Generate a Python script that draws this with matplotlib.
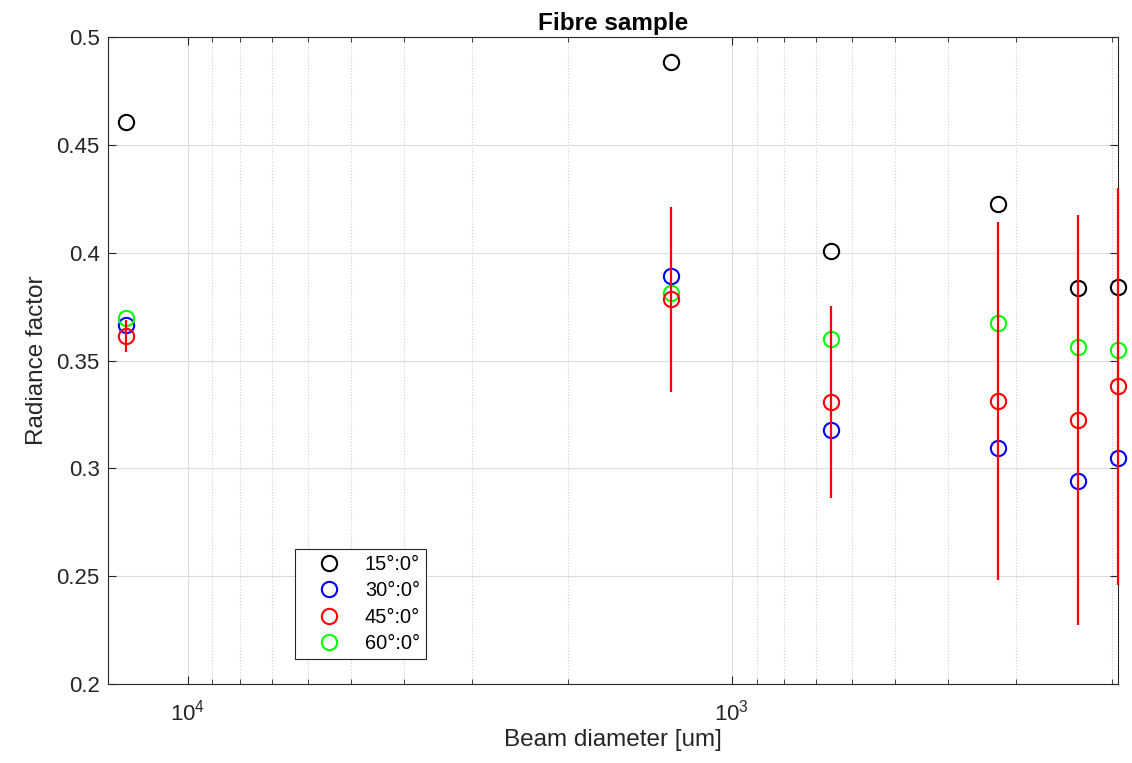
import matplotlib.pyplot as plt
from matplotlib.ticker import LogLocator, NullFormatter

plt.rcParams['font.family'] = ['Liberation Sans', 'DejaVu Sans']

# beam diameters [um]
diam = [12950, 1290, 657, 324, 231, 195]

# radiance factor per geometry
r15 = [0.4604, 0.4885, 0.4007, 0.4228, 0.3834, 0.3839]
r30 = [0.3664, 0.3894, 0.3180, 0.3095, 0.2940, 0.3050]
r45 = [0.3613, 0.3783, 0.3308, 0.3313, 0.3223, 0.3381]
r60 = [0.3698, 0.3814, 0.3602, 0.3672, 0.3563, 0.3548]
err45 = [0.0075, 0.0428, 0.0445, 0.0831, 0.0950, 0.0920]

fig = plt.figure(figsize=(11.32, 7.63), dpi=100)
ax = fig.add_axes([0.0954, 0.1035, 0.8922, 0.848])

mk = dict(linestyle='none', marker='o', markersize=11, markerfacecolor='none',
          markeredgewidth=1.5, clip_on=False, zorder=3)
h15, = ax.plot(diam, r15, markeredgecolor='k', label='15°:0°', **mk)
h30, = ax.plot(diam, r30, markeredgecolor='b', label='30°:0°', **mk)
h60, = ax.plot(diam, r60, markeredgecolor=(0, 1, 0), label='60°:0°', **mk)
eb = ax.errorbar(diam, r45, yerr=err45, fmt='none', ecolor='r', elinewidth=1.6, capsize=0, zorder=3)
for c in eb.get_children():
    c.set_clip_on(False)
h45, = ax.plot(diam, r45, markeredgecolor='r', label='45°:0°', **mk)

ax.set_xscale('log')
ax.set_xlim(14000, 195)
ax.set_ylim(0.2, 0.5)
ax.set_yticks([0.2, 0.25, 0.3, 0.35, 0.4, 0.45, 0.5])
ax.set_yticklabels(['0.2', '0.25', '0.3', '0.35', '0.4', '0.45', '0.5'])
ax.xaxis.set_minor_locator(LogLocator(base=10, subs=range(2, 10)))
ax.xaxis.set_minor_formatter(NullFormatter())

ax.grid(True, which='major', color='#dcdcdc', linewidth=0.8)
ax.grid(True, which='minor', axis='x', color='#d0d0d0', linestyle=':', linewidth=0.8)
ax.set_axisbelow(True)
ax.tick_params(which='both', direction='in', top=True, right=True, labelsize=16, colors='#262626')
ax.tick_params(which='major', length=6)
ax.tick_params(which='minor', length=3.5)
ax.tick_params(axis='x', which='major', pad=11)
ax.tick_params(axis='y', which='major', pad=6)
for s in ax.spines.values():
    s.set_color('#262626')

ax.set_title('Fibre sample', fontsize=17.5, fontweight='bold', pad=5)
ax.set_xlabel('Beam diameter [um]', fontsize=17.5, color='#262626', labelpad=3)
ax.set_ylabel('Radiance factor', fontsize=17.5, color='#262626', labelpad=6)

leg = ax.legend(handles=[h15, h30, h45, h60], loc='lower left', bbox_to_anchor=(0.185, 0.038),
                borderaxespad=0, fontsize=14.4, fancybox=False, framealpha=1, edgecolor='#262626',
                handlelength=2.8, handletextpad=0.4, borderpad=0.3, labelspacing=0.38)
leg.get_frame().set_linewidth(0.8)

fig.savefig('out.png', dpi=100)
